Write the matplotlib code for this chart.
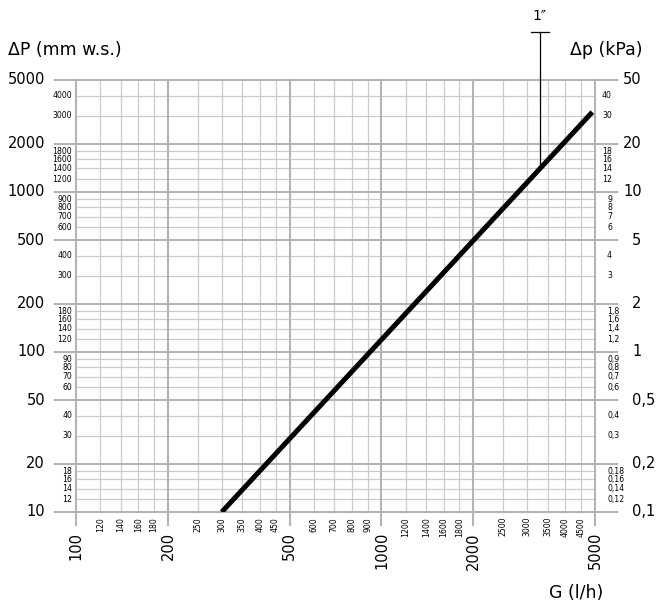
"""
Diagramma perdita di carico: ΔP in funzione della portata G (scala log-log).
"""

import numpy as np
import matplotlib
matplotlib.use("Agg")
import matplotlib.pyplot as plt

# dati
portata = [300, 4900]          # G (l/h)
perdita = [10, 3150]           # ΔP (mm w.s.)

x_maggiori = [100, 200, 500, 1000, 2000, 5000]
x_minori = [120, 140, 160, 180, 250, 300, 350, 400, 450,
            600, 700, 800, 900, 1200, 1400, 1600, 1800,
            2500, 3000, 3500, 4000, 4500]

y_maggiori = [10, 20, 50, 100, 200, 500, 1000, 2000, 5000]
y_minori = [12, 14, 16, 18, 30, 40, 60, 70, 80, 90, 120, 140, 160, 180,
            300, 400, 600, 700, 800, 900, 1200, 1400, 1600, 1800, 3000, 4000]

kpa_maggiori = ["0,1", "0,2", "0,5", "1", "2", "5", "10", "20", "50"]
kpa_minori = ["0,12", "0,14", "0,16", "0,18", "0,3", "0,4", "0,6", "0,7", "0,8", "0,9",
              "1,2", "1,4", "1,6", "1,8", "3", "4", "6", "7", "8", "9",
              "12", "14", "16", "18", "30", "40"]

attacco_G = 3300
attacco_testo = "1\u2033"

W, H = 656, 608
L, R, T, B = 76, 595, 80, 512

plt.rcParams["font.family"] = ["DejaVu Sans"]
fig = plt.figure(figsize=(W / 100, H / 100), dpi=100)
ax = fig.add_axes([L / W, 1 - B / H, (R - L) / W, (B - T) / H])
ax.set_xscale("log")
ax.set_yscale("log")
ax.set_xlim(100, 5000)
ax.set_ylim(10, 5000)
ax.set_axis_off()

px_x = 1 / (R - L)
px_y = 1 / (B - T)
col_magg = "#b4b4b4"
col_min = "#cbcbcb"

tr_y = ax.get_yaxis_transform()
tr_x = ax.get_xaxis_transform()

# griglia orizzontale
for v in y_minori:
    ax.plot([0, 1], [v, v], transform=tr_y, color=col_min, lw=0.9, clip_on=False, zorder=1)
for v in y_maggiori:
    ax.plot([-21 * px_x, 1 + 22 * px_x], [v, v], transform=tr_y, color=col_magg,
            lw=1.5, clip_on=False, zorder=2)

# griglia verticale
for v in x_minori:
    ax.plot([v, v], [0, 1], transform=tr_x, color=col_min, lw=0.9, clip_on=False, zorder=1)
for v in x_maggiori:
    ax.plot([v, v], [-13 * px_y, 1], transform=tr_x, color=col_magg,
            lw=1.5, clip_on=False, zorder=2)

# etichette asse sinistro
for v in y_maggiori:
    ax.text(-31 * px_x, v, f"{v}", transform=tr_y, ha="right", va="center", fontsize=10.5)
for v in y_minori:
    ax.text(-4 * px_x, v, f"{v}", transform=tr_y, ha="right", va="center", fontsize=5.6)

# etichette asse destro (kPa)
for v, s in zip(y_maggiori, kpa_maggiori):
    dx = 28 if len(s) == 2 else 37
    ax.text(1 + dx * px_x, v, s, transform=tr_y, ha="left", va="center", fontsize=10.5)
for v, s in zip(y_minori, kpa_minori):
    dx = 7 if len(s) == 2 else 12
    ax.text(1 + dx * px_x, v, s, transform=tr_y, ha="left", va="center", fontsize=5.6)

# etichette asse x
for v in x_maggiori:
    ax.text(v, -20 * px_y, f"{v}", transform=tr_x, ha="center", va="top",
            rotation=90, fontsize=10.5)
for v in x_minori:
    ax.text(v, -5 * px_y, f"{v}", transform=tr_x, ha="center", va="top",
            rotation=90, fontsize=5.6)

# curva
ax.plot(portata, perdita, color="black", lw=3.6, solid_capstyle="butt", zorder=5)

# riferimento 1"
lg = np.log10(portata)
lp = np.log10(perdita)
y_att = 10 ** np.interp(np.log10(attacco_G), lg, lp)
y_att_ax = (np.log10(y_att) - 1) / np.log10(500)
ax.plot([attacco_G, attacco_G], [y_att_ax, 1 + 48 * px_y], transform=tr_x,
        color="black", lw=0.9, clip_on=False, zorder=6)
x_att_ax = (np.log10(attacco_G) - 2) / np.log10(50)
ax.plot([x_att_ax - 9 * px_x, x_att_ax + 9 * px_x], [1 + 48 * px_y] * 2,
        transform=ax.transAxes, color="black", lw=0.9, clip_on=False, zorder=6)
ax.text(x_att_ax, 1 + 64 * px_y, attacco_testo, transform=ax.transAxes,
        ha="center", va="center", fontsize=10)

# titoli assi
fig.text(8 / W, 1 - 50 / H, "ΔP (mm w.s.)", ha="left", va="center", fontsize=12.5)
fig.text(643 / W, 1 - 50 / H, "Δp (kPa)", ha="right", va="center", fontsize=12.5)
fig.text(603 / W, 1 - 593 / H, "G (l/h)", ha="right", va="center", fontsize=12.5)

fig.savefig("out.png", dpi=100)
